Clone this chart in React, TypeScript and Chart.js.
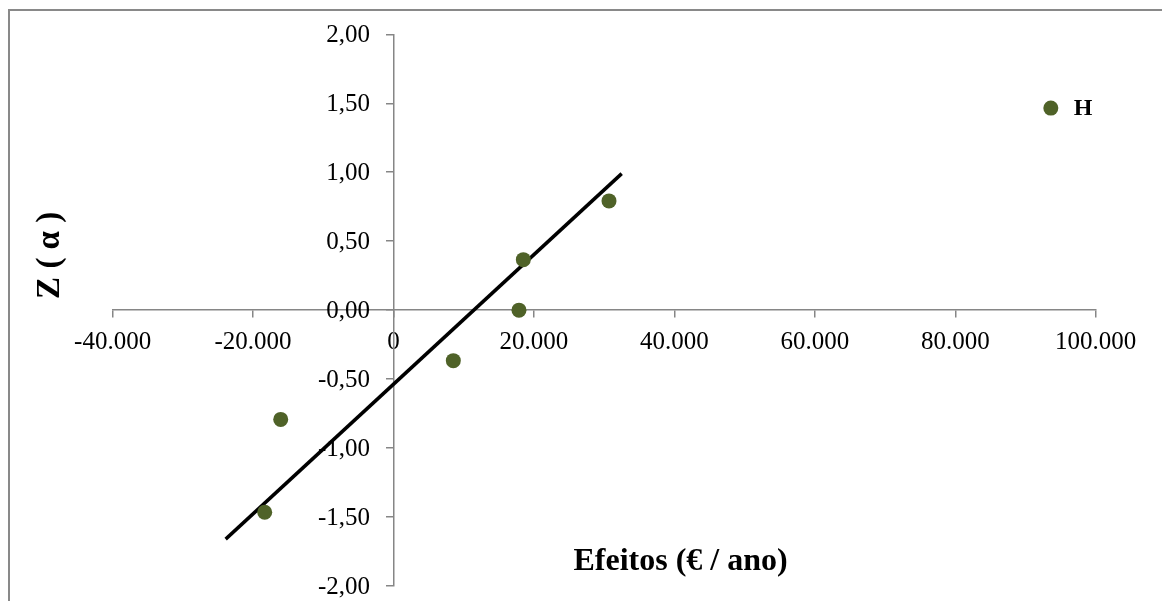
import React, { useEffect, useRef } from "react";
import { Chart, registerables } from "chart.js";

Chart.register(...registerables);

// Observed effects (€ / year) and their normal scores
const effectValues = [-18340, -16060, 8520, 17870, 18490, 30690, 93610];
const zValues = [-1.465, -0.792, -0.366, 0, 0.366, 0.792, 1.465];
const pointLabels = ["", "", "", "", "", "", "H"];

// Straight reference line through the non-significant effects
const trendX = [-23900, 32500];
const trendZ = [-1.66, 0.99];

// Axis ranges and steps
const xAxisMin = -40000;
const xAxisMax = 100000;
const xAxisStep = 20000;
const yAxisMin = -2;
const yAxisMax = 2;
const yAxisStep = 0.5;

const xTitle = "Efeitos (€ / ano)";
const yTitle = "Z ( α )";

const SERIF = "'Liberation Serif', 'Times New Roman', serif";
const AXIS_GREY = "#868686";
const POINT_GREEN = "#4f6228";
const TICK_FONT_SIZE = 25;

function formatThousands(v: number): string {
  if (v === 0) return "0";
  const sign = v < 0 ? "-" : "";
  const s = Math.round(Math.abs(v)).toString();
  return sign + s.replace(/\B(?=(\d{3})+(?!\d))/g, ".");
}

function formatDecimal(v: number): string {
  return v.toFixed(2).replace(".", ",");
}

const annotations = {
  id: "annotations",
  afterDatasetsDraw(chart: any) {
    const { ctx, chartArea, scales } = chart;
    const xScale = scales.x;
    const yScale = scales.y;
    ctx.save();
    ctx.fillStyle = "#000";

    // value labels of the vertical axis, to the left of the axis line
    const axisX = xScale.getPixelForValue(0);
    ctx.font = `${TICK_FONT_SIZE}px ${SERIF}`;
    ctx.textAlign = "right";
    ctx.textBaseline = "middle";
    yScale.ticks.forEach((t: any) => {
      ctx.fillText(formatDecimal(t.value), axisX - 23.5, yScale.getPixelForValue(t.value) + 1);
    });

    // point labels
    const meta = chart.getDatasetMeta(0);
    ctx.font = `bold 24px ${SERIF}`;
    ctx.textAlign = "left";
    ctx.textBaseline = "middle";
    meta.data.forEach((pt: any, i: number) => {
      const lbl = pointLabels[i];
      if (lbl) ctx.fillText(lbl, pt.x + 23, pt.y + 1);
    });

    // axis titles
    ctx.font = `bold 32px ${SERIF}`;
    ctx.textAlign = "center";
    ctx.textBaseline = "middle";
    ctx.fillText(xTitle, chartArea.left + 568, chartArea.bottom - 24);

    ctx.font = `bold 33px ${SERIF}`;
    ctx.translate(50, chartArea.top + 221);
    ctx.rotate(-Math.PI / 2);
    ctx.fillText(yTitle, 0, 0);
    ctx.restore();
  },
};

export default function App() {
  const canvasRef = useRef<HTMLCanvasElement | null>(null);

  useEffect(() => {
    const canvas = canvasRef.current;
    if (!canvas) return;
    const chart = new Chart(canvas, {
      type: "scatter",
      data: {
        datasets: [
          {
            label: "Efeitos",
            data: effectValues.map((x, i) => ({ x, y: zValues[i] })),
            backgroundColor: POINT_GREEN,
            borderColor: POINT_GREEN,
            borderWidth: 0,
            pointRadius: 7.5,
            pointHoverRadius: 7.5,
            order: 1,
          },
          {
            label: "Recta",
            type: "line",
            data: trendX.map((x, i) => ({ x, y: trendZ[i] })),
            borderColor: "#000",
            borderWidth: 3.5,
            pointRadius: 0,
            fill: false,
            order: 2,
          },
        ],
      },
      options: {
        responsive: false,
        animation: false,
        layout: { padding: { left: 112.6, right: 66.3, top: 34.3, bottom: 16 } },
        plugins: {
          legend: { display: false },
          tooltip: { enabled: false },
          title: { display: false },
        },
        scales: {
          x: {
            type: "linear",
            min: xAxisMin,
            max: xAxisMax,
            position: { y: 0 },
            grid: {
              display: true,
              drawOnChartArea: false,
              drawTicks: true,
              tickLength: 7,
              color: AXIS_GREY,
              lineWidth: 1.5,
            },
            border: { display: true, color: AXIS_GREY, width: 1.5 },
            ticks: {
              stepSize: xAxisStep,
              color: "#000",
              font: { family: SERIF, size: TICK_FONT_SIZE },
              padding: 10,
              maxRotation: 0,
              callback: (v: any) => formatThousands(Number(v)),
            },
          },
          y: {
            type: "linear",
            min: yAxisMin,
            max: yAxisMax,
            position: { x: 0 },
            grid: {
              display: true,
              drawOnChartArea: false,
              drawTicks: true,
              tickLength: 7,
              color: AXIS_GREY,
              lineWidth: 1.5,
            },
            border: { display: true, color: AXIS_GREY, width: 1.5 },
            ticks: {
              stepSize: yAxisStep,
              // the visible labels are painted by the annotations plugin
              color: "rgba(0,0,0,0)",
              font: { family: SERIF, size: TICK_FONT_SIZE },
              callback: (v: any) => formatDecimal(Number(v)),
            },
          },
        },
      },
      plugins: [annotations],
    });
    return () => chart.destroy();
  }, []);

  return (
    <div
      style={{
        position: "fixed",
        left: 0,
        top: 0,
        width: 1162,
        height: 601,
        overflow: "hidden",
        background: "#fff",
      }}
    >
      <div
        style={{
          position: "absolute",
          left: 8,
          top: 9,
          width: 1200,
          height: 700,
          border: "2px solid #898989",
          boxSizing: "border-box",
        }}
      />
      <canvas
        ref={canvasRef}
        width={1162}
        height={604}
        style={{ position: "absolute", left: 0, top: 0, display: "block" }}
      />
    </div>
  );
}
